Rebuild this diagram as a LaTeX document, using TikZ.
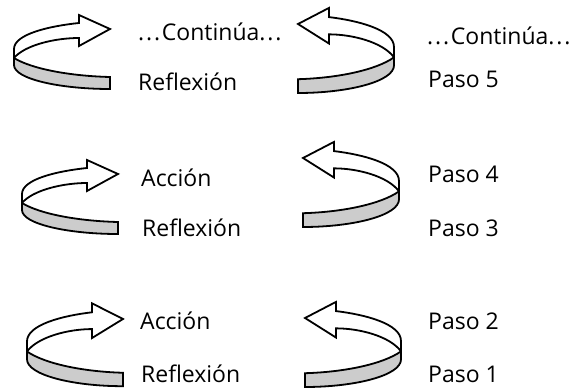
\documentclass[tikz,border=0pt]{standalone}
\usepackage{fontspec}
\setmainfont{Open Sans}
\usepackage{tikz}
\newcommand{\dotsgap}{.\kern1.8pt.\kern1.8pt.\kern1.8pt}

\begin{document}
\begin{tikzpicture}[x=1pt, y=-1pt,
        every node/.style={font=\fontsize{23}{28}\selectfont},
        txt/.style={anchor=base west, inner sep=0pt},
        ribbon/.style={draw, line width=1.8pt, fill=white},
        band/.style={draw, line width=1.8pt, fill=gray!40}]
        \useasboundingbox (0,0) rectangle (578,388);

        % Curved ribbon arrows (tip x / tip y / xscale / yscale)
        \foreach \x/\y/\sx/\sy in {110/29/1/1, 118/174/1/1, 123/319/1/1.12,
                                  298/24/-1/1.15, 303/158/-1/1.15, 305/318/-1/1.15} {
            \begin{scope}[shift={(\x,\y)}, xscale=\sx, yscale=\sy]
                % back side with the head
                \draw[ribbon] (0,0) -- (-31,-14) -- (-31,-6)
                    .. controls (-60,-3) and (-96,5) .. (-96,20) -- (-96,29)
                    .. controls (-85,16) and (-55,9) .. (-31,9) -- (-31,17) -- cycle;
                % front side (grey)
                \draw[band] (-96,29) .. controls (-78,40) and (-40,47) .. (0,48)
                    -- (0,60) .. controls (-50,60) and (-96,50) .. (-96,36) -- cycle;
            \end{scope}
        }

        % Top row
        \node[txt] (cont1) at (138,40) {\dotsgap Continúa\dotsgap};
        \node[txt] (refl1) at (138,90) {Reflexión};
        \node[txt] (cont2) at (427,44) {\dotsgap Continúa\dotsgap};
        \node[txt] (paso5) at (428,87) {Paso 5};

        % Middle row
        \node[txt] (accion2) at (141,186) {Acción};
        \node[txt] (refl2) at (142,236) {Reflexión};
        \node[txt] (paso4) at (428,182) {Paso 4};
        \node[txt] (paso3) at (428,236) {Paso 3};

        % Bottom row
        \node[txt] (accion3) at (140,329) {Acción};
        \node[txt] (refl3) at (141,382) {Reflexión};
        \node[txt] (paso2) at (428,329) {Paso 2};
        \node[txt] (paso1) at (428,382) {Paso 1};
    \end{tikzpicture}
\end{document}
